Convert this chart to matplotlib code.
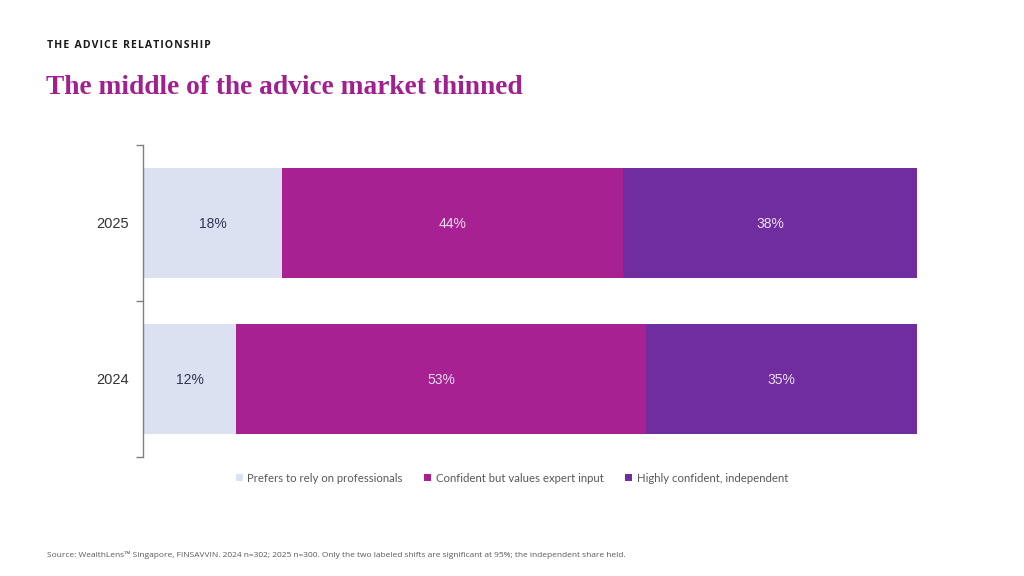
import matplotlib.pyplot as plt
import numpy as np

# Data
years = ["2025", "2024"]
segments = ["Prefers to rely on professionals", "Confident but values expert input", "Highly confident, independent"]
prefers = [18, 12]
confident = [44, 53]
independent = [38, 35]
colors = ["#DCE1F2", "#A72193", "#6F2DA0"]
label_colors = ["#2E3452", "#EBDDF0", "#EBDDF0"]

fig = plt.figure(figsize=(10.24, 5.76), dpi=100)
ax = fig.add_axes([143 / 1024, 1 - 457 / 576, (917 - 143) / 1024, 312 / 576])

y = np.arange(len(years))[::-1]  # 2025 on top
left = np.zeros(len(years))
for vals, name, col, lc in zip([prefers, confident, independent], segments, colors, label_colors):
    bars = ax.barh(y, vals, left=left, height=0.71, color=col, label=name)
    for b, v in zip(bars, vals):
        ax.text(b.get_x() + b.get_width() / 2, b.get_y() + b.get_height() / 2, f"{v}%",
                ha="center", va="center_baseline", color=lc, fontsize=10, family="Liberation Sans")
    left += np.array(vals)

ax.set_xlim(0, 100)
ax.set_ylim(-0.5, 1.5)
ax.set_yticks([0, 1])
ax.set_yticklabels(["2024", "2025"], fontsize=10.5, color="#333333", family="Liberation Sans")
ax.tick_params(axis="y", length=0, pad=10)
ax.set_yticks([-0.5, 0.5, 1.5], minor=True)
ax.tick_params(axis="y", which="minor", length=5, color="#808080", width=1)
ax.set_xticks([])
for s in ["top", "right", "bottom"]:
    ax.spines[s].set_visible(False)
ax.spines["left"].set_color("#808080")
ax.spines["left"].set_linewidth(1)

leg = fig.legend(loc="center", bbox_to_anchor=(512 / 1024, 1 - 478 / 576), ncol=3, frameon=False,
                 handlelength=0.6, handleheight=0.6, handletextpad=0.4, columnspacing=1.9,
                 prop={"family": "Lato", "size": 8.2})
for t in leg.get_texts():
    t.set_color("#595959")

fig.text(47 / 1024, 1 - 45 / 576, "T H E   A D V I C E   R E L A T I O N S H I P".replace("   ", "\u2002").replace(" ", "\u200a"),
         fontsize=7.6, fontweight="bold", color="#1a1a1a", family="Open Sans", va="center")
fig.text(46 / 1024, 1 - 87 / 576, "The middle of the advice market thinned",
         fontsize=19.7, fontweight="bold", color="#A0208F", family="Liberation Serif", va="center")
fig.text(47 / 1024, 1 - 555 / 576,
         "Source: WealthLens\u2122 Singapore, FINSAVVIN. 2024 n=302; 2025 n=300. Only the two labeled shifts are significant at 95%; the independent share held.",
         fontsize=6, color="#595959", family="Open Sans", va="center")

fig.savefig("out.png", dpi=100)
